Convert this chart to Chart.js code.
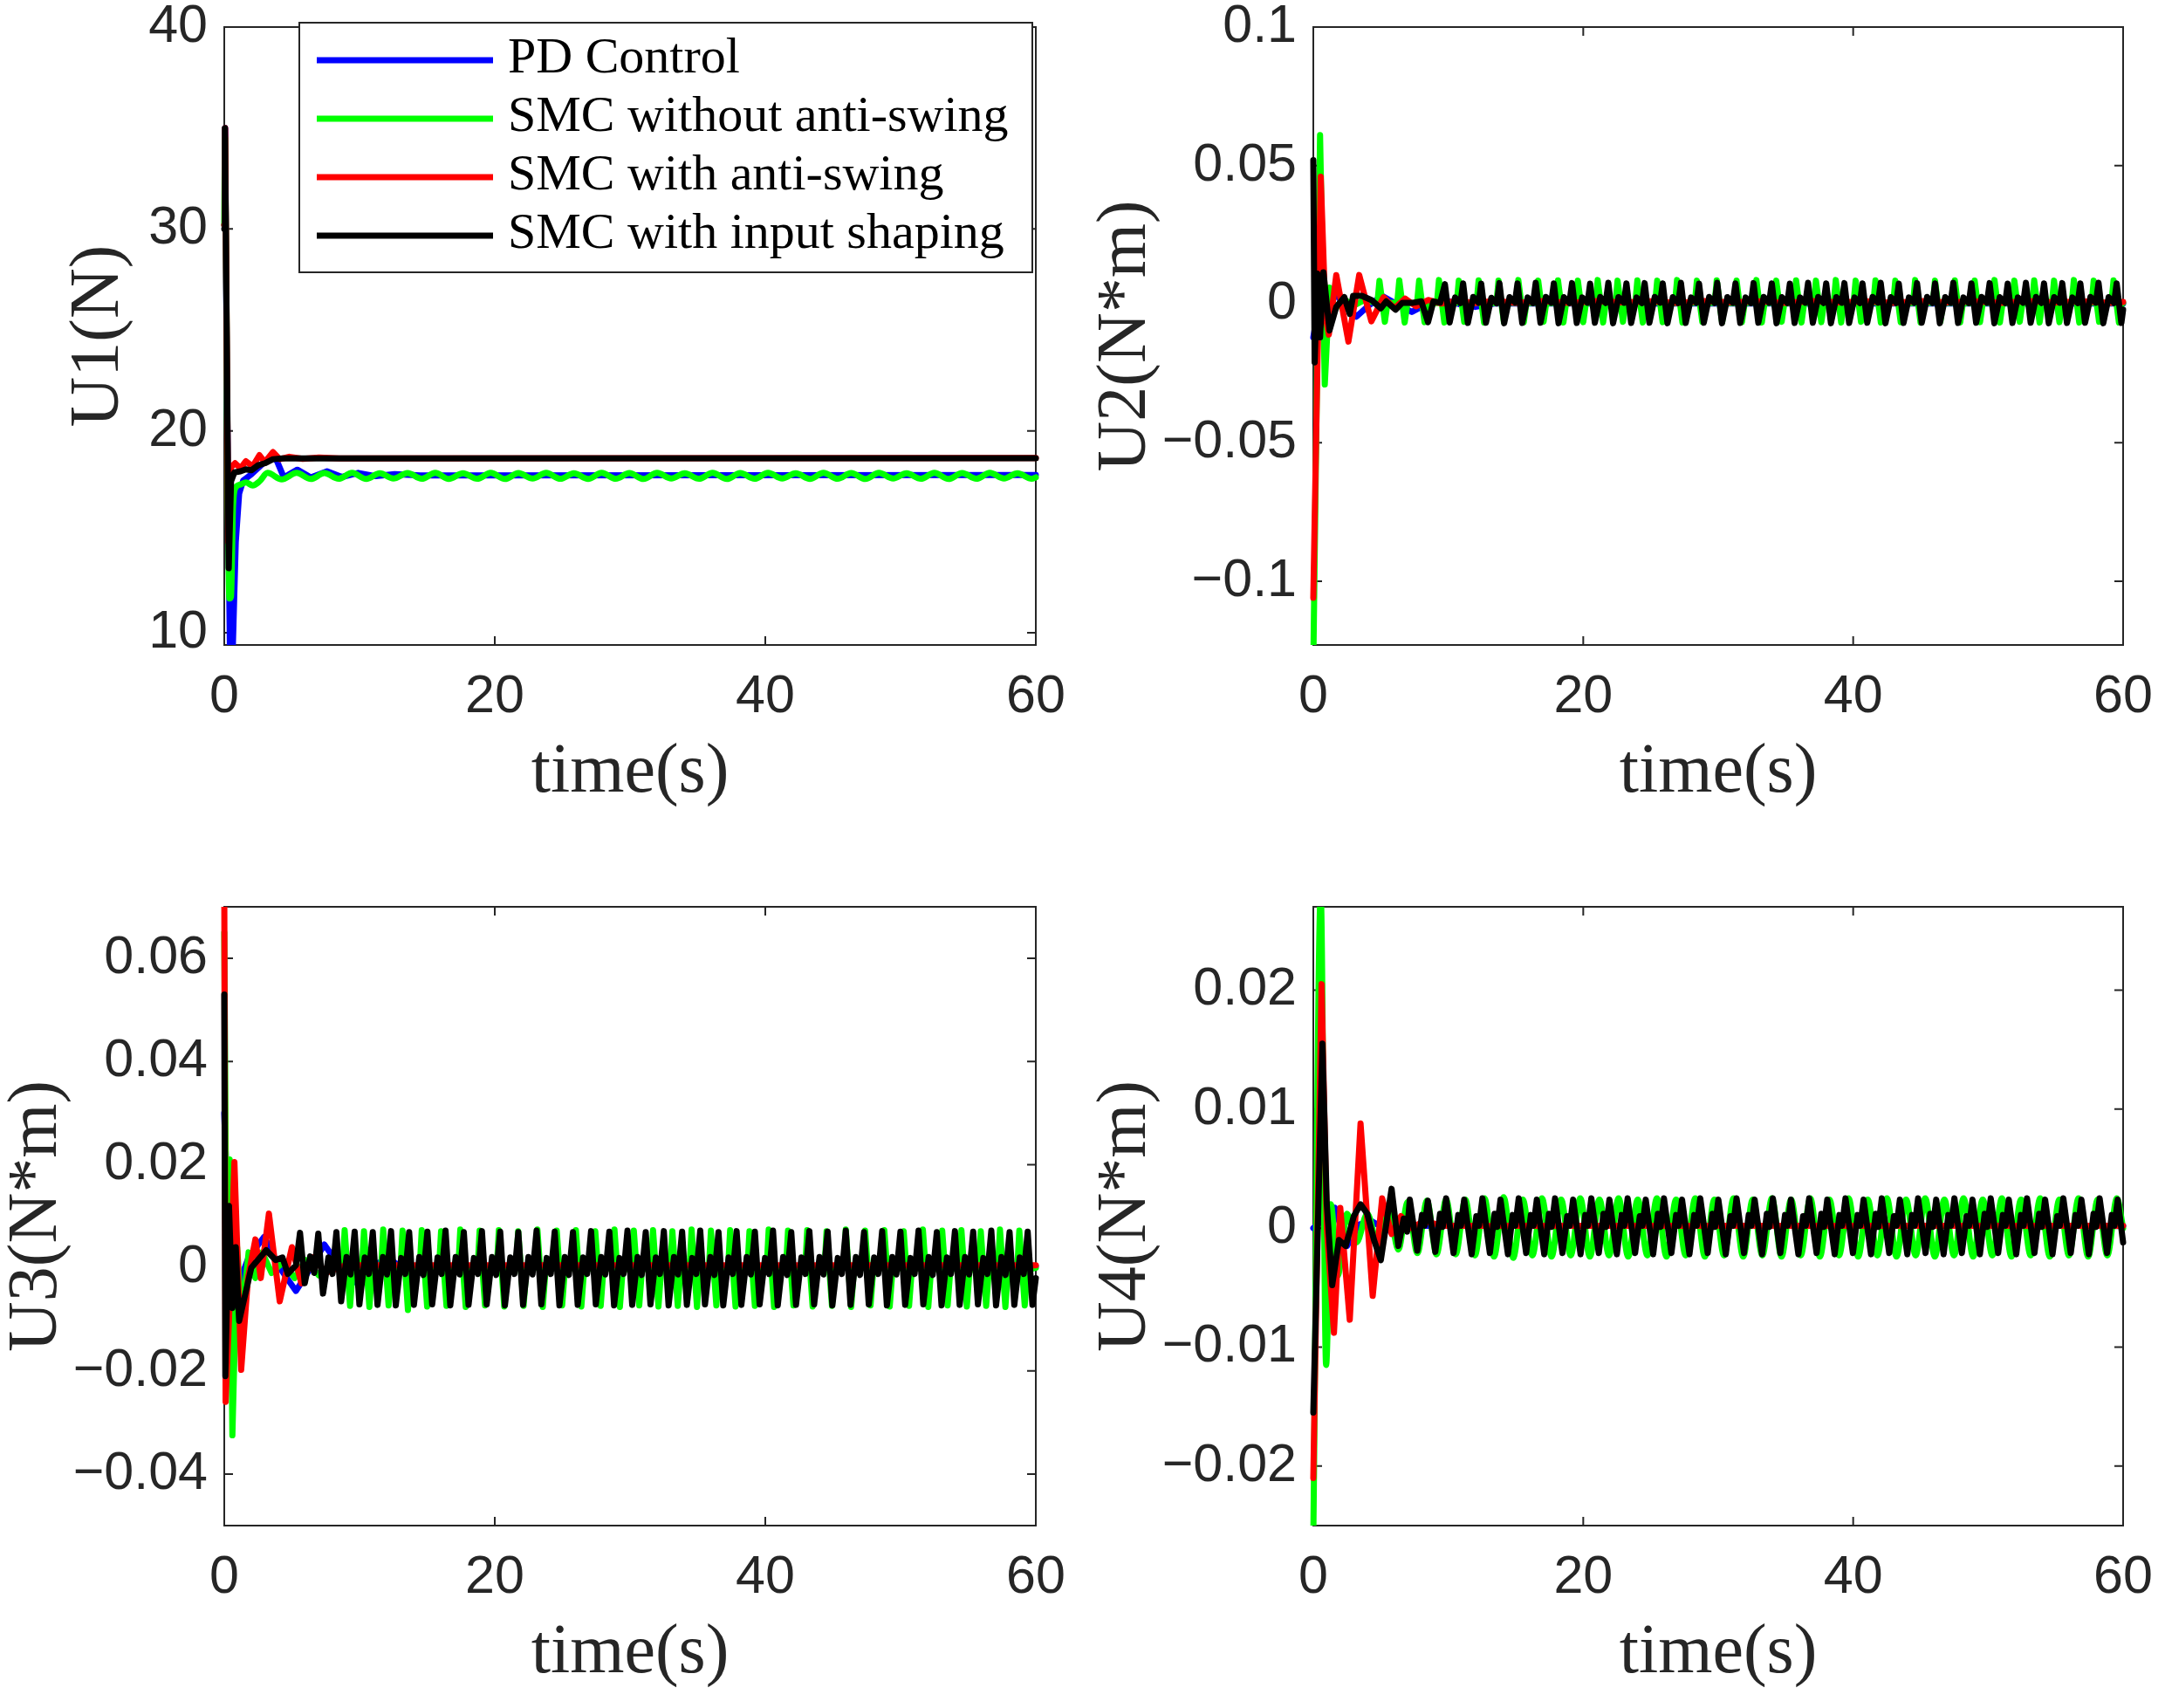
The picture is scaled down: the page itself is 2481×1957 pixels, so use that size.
<!DOCTYPE html>
<html lang="en">
<head>
<meta charset="UTF-8">
<title>Control inputs U1-U4</title>
<script src="https://cdn.jsdelivr.net/npm/chart.js"></script>
<style>
  html, body { margin: 0; padding: 0; background: #fff; overflow: hidden; }
  #fig { position: relative; width: 2481px; height: 1957px; background: #fff; overflow: hidden; }
  #fig canvas { position: absolute; }
</style>
</head>
<body>
<div id="fig">
  <canvas id="u1"></canvas>
  <canvas id="u2"></canvas>
  <canvas id="u3"></canvas>
  <canvas id="u4"></canvas>
</div>
<script>
// ---- series names / colours (legend order) ----
const SERIES_LABELS = ['PD Control', 'SMC without anti-swing', 'SMC with anti-swing', 'SMC with input shaping'];
const SERIES_COLORS = ['#0000ff', '#00ff00', '#ff0000', '#000000'];

// ---- shared x axis ----
const X_TICKS = [0, 20, 40, 60];
const X_LABELS = ['0', '20', '40', '60'];

// ---- U1 (N) ----
const U1_Y_TICKS = [10, 20, 30, 40];
const U1_Y_LABELS = ['10', '20', '30', '40'];
const U1_BLUE = [[0,30.2],[0.06,35],[0.2,22],[0.42,9.0],[0.62,9.0],[0.85,14.5],[1.1,16.9],[1.4,17.55],[2.0,17.85],[2.8,18.35],[3.5,18.8],[3.9,18.5],[4.4,17.7],[5.4,18.08],[6.4,17.7],[7.6,18.0],[8.7,17.72],[9.9,17.92],[11.2,17.76],[12.6,17.86],[14.5,17.8],[60,17.82]];
const U1_GREEN = [[0,30.2],[0.06,34.5],[0.22,20],[0.38,11.7],[0.5,11.8],[0.65,16.3],[0.85,17.2],[1.2,17.35],[1.6,17.45],[2.1,17.3],[2.6,17.5],[3.2,17.92],[4.25,17.6],
  [5.35,17.92],[6.4,17.62],[7.4,17.91],[8.45,17.63],[9.45,17.92],[10.5,17.62],[11.5,17.9],[12.5,17.64],[13.55,17.91],[14.6,17.63],[15.6,17.92],[16.6,17.62],
  [17.65,17.9],[18.7,17.63],[19.7,17.92],[20.75,17.62],[21.75,17.91],[22.8,17.64],[23.8,17.92],[24.85,17.63],[25.85,17.9],[26.9,17.62],[27.9,17.92],[28.95,17.63],
  [29.95,17.91],[31.0,17.62],[32.0,17.92],[33.05,17.64],[34.05,17.9],[35.1,17.63],[36.1,17.92],[37.15,17.62],[38.15,17.91],[39.2,17.63],[40.2,17.92],[41.25,17.64],
  [42.25,17.9],[43.3,17.62],[44.3,17.92],[45.35,17.63],[46.35,17.91],[47.4,17.62],[48.4,17.92],[49.45,17.64],[50.45,17.9],[51.5,17.63],[52.5,17.92],[53.55,17.62],
  [54.55,17.91],[55.6,17.63],[56.6,17.92],[57.65,17.64],[58.65,17.9],[59.7,17.63],[60,17.7]];
const U1_RED = [[0,30.2],[0.06,35],[0.3,14.5],[0.5,18.2],[0.8,18.4],[1.2,18.15],[1.6,18.5],[2.1,18.25],[2.6,18.8],[3.0,18.45],[3.6,18.95],[4.1,18.6],[4.8,18.72],[5.8,18.62],[7.0,18.68],[8.5,18.64],[60,18.66]];
const U1_BLACK = [[0,30.0],[0.05,35],[0.33,13.2],[0.5,17.5],[0.75,17.95],[1.2,18.0],[1.6,18.1],[2.0,18.05],[2.5,18.3],[3.0,18.4],[3.6,18.6],[4.3,18.64],[60,18.65]];

// ---- U2 (N*m) ----
const U2_Y_TICKS = [-0.1, -0.05, 0, 0.05, 0.1];
const U2_Y_LABELS = ['\u22120.1', '\u22120.05', '0', '0.05', '0.1'];
const U2_BLUE = [[0,-0.012],[0.5,0.002],[1.3,0.0055],[2.2,0.0005],[3.2,-0.0045],[4.1,-0.0005],[5.1,0.003],[6.2,0.0],[7.3,-0.0028],[8.4,0.0],[9.6,0.0017],[10.8,0.0],[12.0,-0.001],[13.5,0.0003],[15,0.0002],[60,0.0002]];
const U2_GREEN = [[0,-0.13],[0.5,0.061],[0.85,-0.029],[1.2,0.006],[1.6,-0.002],[2.2,0.002],[3.0,-0.0005],[3.8,0.0015],[4.6,0.0005],
  [4.75,0.0005],[4.9,0.0084],[5.3,-0.0064],[5.5,0.0005],
  [6.22,0.0005],[6.37,0.0086],[6.77,-0.0066],[6.97,0.0004],
  [7.69,0.0005],[7.84,0.0085],[8.24,-0.0065],[8.44,0.0005],
  [9.16,0.0004],[9.31,0.0087],[9.71,-0.0066],[9.91,0.0005],
  [10.63,0.0005],[10.78,0.0085],[11.18,-0.0064],[11.38,0.0004],
  [12.1,0.0005],[12.25,0.0086],[12.65,-0.0066],[12.85,0.0005],
  [13.57,0.0004],[13.72,0.0085],[14.12,-0.0065],[14.32,0.0005],
  [15.04,0.0005],[15.19,0.0087],[15.59,-0.0066],[15.79,0.0004],
  [16.51,0.0005],[16.66,0.0085],[17.06,-0.0064],[17.26,0.0005],
  [17.98,0.0004],[18.13,0.0086],[18.53,-0.0066],[18.73,0.0005],
  [19.45,0.0005],[19.6,0.0085],[20.0,-0.0065],[20.2,0.0004],
  [20.92,0.0005],[21.07,0.0087],[21.47,-0.0066],[21.67,0.0005],
  [22.39,0.0004],[22.54,0.0085],[22.94,-0.0064],[23.14,0.0005],
  [23.86,0.0005],[24.01,0.0086],[24.41,-0.0066],[24.61,0.0004],
  [25.33,0.0005],[25.48,0.0085],[25.88,-0.0065],[26.08,0.0005],
  [26.8,0.0004],[26.95,0.0087],[27.35,-0.0066],[27.55,0.0005],
  [28.27,0.0005],[28.42,0.0085],[28.82,-0.0064],[29.02,0.0004],
  [29.74,0.0005],[29.89,0.0086],[30.29,-0.0066],[30.49,0.0005],
  [31.21,0.0004],[31.36,0.0085],[31.76,-0.0065],[31.96,0.0005],
  [32.68,0.0005],[32.83,0.0087],[33.23,-0.0066],[33.43,0.0004],
  [34.15,0.0005],[34.3,0.0085],[34.7,-0.0064],[34.9,0.0005],
  [35.62,0.0004],[35.77,0.0086],[36.17,-0.0066],[36.37,0.0005],
  [37.09,0.0005],[37.24,0.0085],[37.64,-0.0065],[37.84,0.0004],
  [38.56,0.0005],[38.71,0.0087],[39.11,-0.0066],[39.31,0.0005],
  [40.03,0.0004],[40.18,0.0085],[40.58,-0.0064],[40.78,0.0005],
  [41.5,0.0005],[41.65,0.0086],[42.05,-0.0066],[42.25,0.0004],
  [42.97,0.0005],[43.12,0.0085],[43.52,-0.0065],[43.72,0.0005],
  [44.44,0.0004],[44.59,0.0087],[44.99,-0.0066],[45.19,0.0005],
  [45.91,0.0005],[46.06,0.0085],[46.46,-0.0064],[46.66,0.0004],
  [47.38,0.0005],[47.53,0.0086],[47.93,-0.0066],[48.13,0.0005],
  [48.85,0.0004],[49.0,0.0085],[49.4,-0.0065],[49.6,0.0005],
  [50.32,0.0005],[50.47,0.0087],[50.87,-0.0066],[51.07,0.0004],
  [51.79,0.0005],[51.94,0.0085],[52.34,-0.0064],[52.54,0.0005],
  [53.26,0.0004],[53.41,0.0086],[53.81,-0.0066],[54.01,0.0005],
  [54.73,0.0005],[54.88,0.0085],[55.28,-0.0065],[55.48,0.0004],
  [56.2,0.0005],[56.35,0.0087],[56.75,-0.0066],[56.95,0.0005],
  [57.67,0.0004],[57.82,0.0085],[58.22,-0.0064],[58.42,0.0005],
  [59.14,0.0005],[59.29,0.0086],[59.69,-0.0066],[59.89,0.0005],[60,0.0005]];
const U2_RED = [[0,-0.106],[0.55,0.046],[0.9,-0.004],[1.15,-0.011],[1.7,0.0105],[2.6,-0.0135],[3.4,0.0105],[4.3,-0.0062],[5.2,0.0025],[6.0,-0.0015],[6.8,0.002],[7.6,-0.0008],[8.5,0.0015],[9.5,0.0002],
  [10.6,0.0012],[12,0.0004],[13.4,0.0012],[15,0.0005],[17,0.0011],[19,0.0005],[21,0.0011],[23,0.0006],[25,0.001],[27,0.0005],[29,0.0011],[31,0.0006],[33,0.001],[35,0.0005],
  [37,0.0011],[39,0.0006],[41,0.001],[43,0.0005],[45,0.0011],[47,0.0006],[49,0.001],[51,0.0005],[53,0.0011],[55,0.0006],[57,0.001],[59,0.0005],[60,0.0008]];
const U2_BLACK = [[0,0.052],[0.1,-0.021],[0.3,0.011],[0.5,-0.012],[0.75,0.0115],[1.2,-0.0095],[1.7,-0.001],[2.3,0.0025],[2.7,-0.0035],[2.95,0.003],[3.6,0.003],[4.3,0.0015],[5.0,-0.0015],[5.4,0.001],[6.1,-0.002],[6.6,0.0005],[7.4,0.0005],[8.0,0.001],[8.5,-0.0065],[8.9,0.001],[9.4,0.0005],
  [9.75,0.0072],[10.1,-0.0066],[10.5,0.0024],[10.9,0.0004],
  [11.1,0.0075],[11.45,-0.0068],[11.85,0.0026],[12.25,0.0005],
  [12.44,0.0074],[12.79,-0.0067],[13.19,0.0023],[13.59,0.0003],
  [13.79,0.0076],[14.14,-0.0069],[14.54,0.0025],[14.94,0.0006],
  [15.13,0.0075],[15.48,-0.0068],[15.88,0.0024],[16.28,0.0004],
  [16.48,0.0077],[16.83,-0.0067],[17.23,0.0026],[17.63,0.0005],
  [17.82,0.0075],[18.17,-0.0069],[18.57,0.0025],[18.97,0.0004],
  [19.17,0.0076],[19.52,-0.0068],[19.92,0.0024],[20.32,0.0005],
  [20.51,0.0074],[20.86,-0.0067],[21.26,0.0026],[21.66,0.0004],
  [21.86,0.0077],[22.21,-0.0069],[22.61,0.0025],[23.01,0.0005],
  [23.2,0.0075],[23.55,-0.0068],[23.95,0.0024],[24.35,0.0004],
  [24.55,0.0076],[24.9,-0.0067],[25.3,0.0026],[25.7,0.0005],
  [25.89,0.0075],[26.24,-0.0069],[26.64,0.0025],[27.04,0.0004],
  [27.24,0.0077],[27.59,-0.0068],[27.99,0.0024],[28.39,0.0005],
  [28.58,0.0074],[28.93,-0.0067],[29.33,0.0026],[29.73,0.0004],
  [29.93,0.0077],[30.28,-0.0069],[30.68,0.0025],[31.08,0.0005],
  [31.28,0.0075],[31.63,-0.0068],[32.03,0.0024],[32.43,0.0004],
  [32.62,0.0076],[32.97,-0.0067],[33.37,0.0026],[33.77,0.0005],
  [33.97,0.0075],[34.32,-0.0069],[34.72,0.0025],[35.12,0.0004],
  [35.31,0.0074],[35.66,-0.0068],[36.06,0.0024],[36.46,0.0005],
  [36.66,0.0077],[37.01,-0.0067],[37.41,0.0026],[37.81,0.0004],
  [38.0,0.0075],[38.35,-0.0069],[38.75,0.0025],[39.15,0.0005],
  [39.35,0.0076],[39.7,-0.0068],[40.1,0.0024],[40.5,0.0004],
  [40.69,0.0075],[41.04,-0.0067],[41.44,0.0026],[41.84,0.0005],
  [42.04,0.0077],[42.39,-0.0069],[42.79,0.0025],[43.19,0.0004],
  [43.38,0.0074],[43.73,-0.0068],[44.13,0.0024],[44.53,0.0005],
  [44.73,0.0076],[45.08,-0.0067],[45.48,0.0026],[45.88,0.0004],
  [46.07,0.0075],[46.42,-0.0069],[46.82,0.0025],[47.22,0.0005],
  [47.42,0.0077],[47.77,-0.0068],[48.17,0.0024],[48.57,0.0004],
  [48.76,0.0075],[49.11,-0.0067],[49.51,0.0026],[49.91,0.0005],
  [50.11,0.0076],[50.46,-0.0069],[50.86,0.0025],[51.26,0.0004],
  [51.45,0.0074],[51.8,-0.0068],[52.2,0.0024],[52.6,0.0005],
  [52.8,0.0077],[53.15,-0.0067],[53.55,0.0026],[53.95,0.0004],
  [54.14,0.0075],[54.49,-0.0069],[54.89,0.0025],[55.29,0.0005],
  [55.49,0.0076],[55.84,-0.0068],[56.24,0.0024],[56.64,0.0004],
  [56.83,0.0075],[57.18,-0.0067],[57.58,0.0026],[57.98,0.0005],
  [58.18,0.0077],[58.53,-0.0069],[58.93,0.0025],[59.33,0.0004],
  [59.52,0.0075],[59.87,-0.0068],[60,-0.002]];

// ---- U3 (N*m) ----
const U3_Y_TICKS = [-0.04, -0.02, 0, 0.02, 0.04, 0.06];
const U3_Y_LABELS = ['\u22120.04', '\u22120.02', '0', '0.02', '0.04', '0.06'];
const U3_BLUE = [[0,0.03],[0.3,0.008],[0.8,-0.005],[1.8,0.002],[2.95,0.006],[4.1,0.0],[5.3,-0.0045],[6.4,0.0],[7.4,0.0045],[8.6,0.0],[9.8,-0.003],[10.9,0.0],[12.0,0.002],[13.2,0.0],[14.4,-0.001],[16,0.0003],[60,0.0003]];
const U3_GREEN = [[0,0.065],[0.2,-0.015],[0.4,0.021],[0.6,-0.0325],[0.95,0.004],[1.3,-0.01],[1.8,0.003],[2.3,-0.002],[2.8,0.003],[3.5,-0.001],[4.3,0.001],[5.2,-0.002],[6.0,0.0015],[7.0,-0.0015],[8.0,0.0005],
  [8.75,0.0],[8.9,0.0073],[9.3,-0.0074],[9.5,-0.0005],
  [10.18,0.0],[10.33,0.0071],[10.73,-0.0076],[10.93,-0.0004],
  [11.6,0.0],[11.75,0.0074],[12.15,-0.0073],[12.35,-0.0005],
  [13.03,0.0],[13.18,0.0072],[13.58,-0.0082],[13.78,-0.0004],
  [14.45,0.0],[14.6,0.0073],[15.0,-0.0075],[15.2,-0.0005],
  [15.88,0.0],[16.03,0.0071],[16.43,-0.0074],[16.63,-0.0004],
  [17.3,0.0],[17.45,0.0074],[17.85,-0.0076],[18.05,-0.0005],
  [18.73,0.0],[18.88,0.0072],[19.28,-0.0073],[19.48,-0.0004],
  [20.15,0.0],[20.3,0.0073],[20.7,-0.0075],[20.9,-0.0005],
  [21.58,0.0],[21.73,0.0071],[22.13,-0.0074],[22.33,-0.0004],
  [23.0,0.0],[23.15,0.0074],[23.55,-0.0076],[23.75,-0.0005],
  [24.43,0.0],[24.58,0.0072],[24.98,-0.0073],[25.18,-0.0004],
  [25.85,0.0],[26.0,0.0073],[26.4,-0.0075],[26.6,-0.0005],
  [27.28,0.0],[27.43,0.0071],[27.83,-0.0074],[28.03,-0.0004],
  [28.7,0.0],[28.85,0.0074],[29.25,-0.0076],[29.45,-0.0005],
  [30.13,0.0],[30.28,0.0072],[30.68,-0.0073],[30.88,-0.0004],
  [31.55,0.0],[31.7,0.0073],[32.1,-0.0075],[32.3,-0.0005],
  [32.98,0.0],[33.13,0.0071],[33.53,-0.0074],[33.73,-0.0004],
  [34.4,0.0],[34.55,0.0074],[34.95,-0.0076],[35.15,-0.0005],
  [35.83,0.0],[35.98,0.0072],[36.38,-0.0073],[36.58,-0.0004],
  [37.25,0.0],[37.4,0.0073],[37.8,-0.0075],[38.0,-0.0005],
  [38.68,0.0],[38.83,0.0071],[39.23,-0.0074],[39.43,-0.0004],
  [40.1,0.0],[40.25,0.0074],[40.65,-0.0076],[40.85,-0.0005],
  [41.53,0.0],[41.68,0.0072],[42.08,-0.0073],[42.28,-0.0004],
  [42.95,0.0],[43.1,0.0073],[43.5,-0.0075],[43.7,-0.0005],
  [44.38,0.0],[44.53,0.0071],[44.93,-0.0074],[45.13,-0.0004],
  [45.8,0.0],[45.95,0.0074],[46.35,-0.0076],[46.55,-0.0005],
  [47.23,0.0],[47.38,0.0072],[47.78,-0.0073],[47.98,-0.0004],
  [48.65,0.0],[48.8,0.0073],[49.2,-0.0075],[49.4,-0.0005],
  [50.08,0.0],[50.23,0.0071],[50.63,-0.0074],[50.83,-0.0004],
  [51.5,0.0],[51.65,0.0074],[52.05,-0.0076],[52.25,-0.0005],
  [52.93,0.0],[53.08,0.0072],[53.48,-0.0073],[53.68,-0.0004],
  [54.35,0.0],[54.5,0.0073],[54.9,-0.0075],[55.1,-0.0005],
  [55.78,0.0],[55.93,0.0071],[56.33,-0.0074],[56.53,-0.0004],
  [57.2,0.0],[57.35,0.0074],[57.75,-0.0076],[57.95,-0.0005],
  [58.63,0.0],[58.78,0.0072],[59.18,-0.0073],[59.38,-0.0004],[60,0.0]];
const U3_RED = [[0,0.075],[0.1,-0.026],[0.35,-0.01],[0.75,0.0205],[1.25,-0.0198],[1.75,-0.002],[2.3,0.0055],[2.7,-0.002],[3.3,0.0105],[4.1,-0.0065],[5.0,0.004],[5.7,-0.003],[6.6,0.002],[7.5,-0.001],[9,0.0005],[60,0.0005]];
const U3_BLACK = [[0,0.053],[0.08,-0.021],[0.35,0.012],[0.6,-0.0078],[0.85,0.004],[1.1,-0.0103],[2.0,0.0],[3.1,0.0034],[3.8,0.0015],[4.3,0.002],[4.7,-0.0012],[5.3,0.0005],
  [5.6,0.0068],[5.95,-0.003],[6.35,0.0022],[6.65,-0.001],
  [6.95,0.0066],[7.3,-0.005],[7.7,0.002],[8.0,-0.0012],
  [8.29,0.0069],[8.64,-0.0065],[9.04,0.0021],[9.34,-0.0013],
  [9.64,0.007],[9.99,-0.0071],[10.39,0.002],[10.69,-0.0012],
  [10.98,0.0069],[11.33,-0.0072],[11.73,0.0021],[12.03,-0.0013],
  [12.33,0.0071],[12.68,-0.0073],[13.08,0.0019],[13.38,-0.0012],
  [13.67,0.0069],[14.02,-0.0072],[14.42,0.0021],[14.72,-0.0014],
  [15.02,0.007],[15.37,-0.0071],[15.77,0.002],[16.07,-0.0012],
  [16.36,0.0072],[16.71,-0.0073],[17.11,0.0021],[17.41,-0.0013],
  [17.71,0.0069],[18.06,-0.0072],[18.46,0.0019],[18.76,-0.0012],
  [19.05,0.0071],[19.4,-0.0071],[19.8,0.0021],[20.1,-0.0014],
  [20.4,0.007],[20.75,-0.0073],[21.15,0.002],[21.45,-0.0012],
  [21.74,0.0069],[22.09,-0.0072],[22.49,0.0021],[22.79,-0.0013],
  [23.09,0.0072],[23.44,-0.0071],[23.84,0.0019],[24.14,-0.0012],
  [24.43,0.007],[24.78,-0.0073],[25.18,0.0021],[25.48,-0.0014],
  [25.78,0.0069],[26.13,-0.0072],[26.53,0.002],[26.83,-0.0012],
  [27.12,0.0071],[27.47,-0.0071],[27.87,0.0021],[28.17,-0.0013],
  [28.47,0.007],[28.82,-0.0073],[29.22,0.0019],[29.52,-0.0012],
  [29.81,0.0072],[30.16,-0.0072],[30.56,0.0021],[30.86,-0.0014],
  [31.16,0.0069],[31.51,-0.0071],[31.91,0.002],[32.21,-0.0012],
  [32.5,0.0071],[32.85,-0.0073],[33.25,0.0021],[33.55,-0.0013],
  [33.85,0.007],[34.2,-0.0072],[34.6,0.0019],[34.9,-0.0012],
  [35.19,0.0072],[35.54,-0.0071],[35.94,0.0021],[36.24,-0.0014],
  [36.54,0.0069],[36.89,-0.0073],[37.29,0.002],[37.59,-0.0012],
  [37.88,0.0071],[38.23,-0.0072],[38.63,0.0021],[38.93,-0.0013],
  [39.23,0.007],[39.58,-0.0071],[39.98,0.0019],[40.28,-0.0012],
  [40.57,0.0072],[40.92,-0.0073],[41.32,0.0021],[41.62,-0.0014],
  [41.92,0.0069],[42.27,-0.0072],[42.67,0.002],[42.97,-0.0012],
  [43.26,0.0071],[43.61,-0.0071],[44.01,0.0021],[44.31,-0.0013],
  [44.61,0.007],[44.96,-0.0073],[45.36,0.0019],[45.66,-0.0012],
  [45.95,0.0072],[46.3,-0.0072],[46.7,0.0021],[47.0,-0.0014],
  [47.3,0.0069],[47.65,-0.0071],[48.05,0.002],[48.35,-0.0012],
  [48.64,0.0071],[48.99,-0.0073],[49.39,0.0021],[49.69,-0.0013],
  [49.99,0.007],[50.34,-0.0072],[50.74,0.0019],[51.04,-0.0012],
  [51.33,0.0072],[51.68,-0.0071],[52.08,0.0021],[52.38,-0.0014],
  [52.68,0.0069],[53.03,-0.0073],[53.43,0.002],[53.73,-0.0012],
  [54.02,0.0071],[54.37,-0.0072],[54.77,0.0021],[55.07,-0.0013],
  [55.37,0.007],[55.72,-0.0071],[56.12,0.0019],[56.42,-0.0012],
  [56.71,0.0072],[57.06,-0.0073],[57.46,0.0021],[57.76,-0.0014],
  [58.06,0.0069],[58.41,-0.0072],[58.81,0.002],[59.11,-0.0012],
  [59.4,0.007],[59.75,-0.0072],[60,-0.002]];

// ---- U4 (N*m) ----
const U4_Y_TICKS = [-0.02, -0.01, 0, 0.01, 0.02];
const U4_Y_LABELS = ['\u22120.02', '\u22120.01', '0', '0.01', '0.02'];
const U4_BLUE = [[0,0.0],[0.5,0.0005],[1.6,0.0017],[2.5,-0.0015],[3.4,0.0003],[4.3,0.0006],[5.5,-0.0002],[7,0.0002],[60,0.0002]];
const U4_GREEN = [[0,-0.026],[0.55,0.028],[0.95,-0.0115],[1.3,0.002],[1.8,-0.004],[2.5,0.0012],[3.2,-0.0012],[4.0,0.0012],[4.8,-0.0015],[5.6,0.0015],[6.3,-0.0018],
  [7.0,0.0022],[7.71,-0.0021],[8.42,0.0023],[9.13,-0.0022],[9.84,0.0024],[10.55,-0.0022],[11.26,0.0024],[11.97,-0.0023],[12.68,0.0025],[13.39,-0.0024],
  [14.1,0.0026],[14.81,-0.0025],[15.52,0.0024],[16.23,-0.0023],[16.94,0.0025],[17.65,-0.0024],[18.36,0.0024],[19.07,-0.0023],[19.78,0.0025],[20.49,-0.0024],
  [21.2,0.0024],[21.91,-0.0023],[22.62,0.0025],[23.33,-0.0024],[24.04,0.0024],[24.75,-0.0023],[25.46,0.0025],[26.17,-0.0024],[26.88,0.0024],[27.59,-0.0023],
  [28.3,0.0025],[29.01,-0.0024],[29.72,0.0024],[30.43,-0.0023],[31.14,0.0025],[31.85,-0.0024],[32.56,0.0024],[33.27,-0.0023],[33.98,0.0025],[34.69,-0.0024],
  [35.4,0.0024],[36.11,-0.0023],[36.82,0.0025],[37.53,-0.0024],[38.24,0.0024],[38.95,-0.0023],[39.66,0.0025],[40.37,-0.0024],[41.08,0.0024],[41.79,-0.0023],
  [42.5,0.0025],[43.21,-0.0024],[43.92,0.0024],[44.63,-0.0023],[45.34,0.0025],[46.05,-0.0024],[46.76,0.0024],[47.47,-0.0023],[48.18,0.0025],[48.89,-0.0024],
  [49.6,0.0024],[50.31,-0.0023],[51.02,0.0025],[51.73,-0.0024],[52.44,0.0024],[53.15,-0.0023],[53.86,0.0025],[54.57,-0.0024],[55.28,0.0024],[55.99,-0.0023],
  [56.7,0.0025],[57.41,-0.0024],[58.12,0.0024],[58.83,-0.0023],[59.54,0.0025],[60,0.0]];
const U4_RED = [[0,-0.021],[0.61,0.0205],[1.0,0.0],[1.53,-0.0088],[2.0,0.0017],[2.7,-0.0077],[3.5,0.0088],[4.4,-0.0057],[5.1,0.0025],[5.8,-0.0005],[6.5,0.001],[7.3,0.0],[8.2,0.0006],[9.5,0.0002],[60,0.0002]];
const U4_BLACK = [[0,-0.0155],[0.67,0.0155],[1.0,0.002],[1.4,-0.0048],[1.9,-0.001],[2.4,-0.0015],[3.0,0.001],[3.5,0.002],[4.0,0.0012],[4.5,-0.001],[5.0,-0.0027],[5.8,0.0033],[6.3,-0.0015],[6.7,0.0008],[6.95,-0.0003],
  [7.15,0.0024],[7.7,-0.0019],[8.05,0.0011],[8.25,0.0002],
  [8.49,0.0023],[9.04,-0.002],[9.39,0.0012],[9.59,0.0001],
  [9.84,0.0025],[10.39,-0.0021],[10.74,0.0011],[10.94,0.0002],
  [11.18,0.0024],[11.73,-0.0022],[12.08,0.001],[12.28,0.0002],
  [12.53,0.0025],[13.08,-0.0021],[13.43,0.0012],[13.63,0.0001],
  [13.87,0.0024],[14.42,-0.0022],[14.77,0.0011],[14.97,0.0002],
  [15.22,0.0025],[15.77,-0.0021],[16.12,0.0011],[16.32,0.0002],
  [16.56,0.0024],[17.11,-0.0022],[17.46,0.0012],[17.66,0.0001],
  [17.91,0.0025],[18.46,-0.0021],[18.81,0.001],[19.01,0.0002],
  [19.25,0.0024],[19.8,-0.0022],[20.15,0.0011],[20.35,0.0002],
  [20.6,0.0025],[21.15,-0.0021],[21.5,0.0012],[21.7,0.0001],
  [21.94,0.0024],[22.49,-0.0022],[22.84,0.0011],[23.04,0.0002],
  [23.29,0.0025],[23.84,-0.0021],[24.19,0.001],[24.39,0.0002],
  [24.63,0.0024],[25.18,-0.0022],[25.53,0.0012],[25.73,0.0001],
  [25.98,0.0025],[26.53,-0.0021],[26.88,0.0011],[27.08,0.0002],
  [27.32,0.0024],[27.87,-0.0022],[28.22,0.0011],[28.42,0.0002],
  [28.67,0.0025],[29.22,-0.0021],[29.57,0.0012],[29.77,0.0001],
  [30.01,0.0024],[30.56,-0.0022],[30.91,0.001],[31.11,0.0002],
  [31.36,0.0025],[31.91,-0.0021],[32.26,0.0011],[32.46,0.0002],
  [32.7,0.0024],[33.25,-0.0022],[33.6,0.0012],[33.8,0.0001],
  [34.05,0.0025],[34.6,-0.0021],[34.95,0.0011],[35.15,0.0002],
  [35.39,0.0024],[35.94,-0.0022],[36.29,0.001],[36.49,0.0002],
  [36.74,0.0025],[37.29,-0.0021],[37.64,0.0012],[37.84,0.0001],
  [38.08,0.0024],[38.63,-0.0022],[38.98,0.0011],[39.18,0.0002],
  [39.43,0.0025],[39.98,-0.0021],[40.33,0.0011],[40.53,0.0002],
  [40.77,0.0024],[41.32,-0.0022],[41.67,0.0012],[41.87,0.0001],
  [42.12,0.0025],[42.67,-0.0021],[43.02,0.001],[43.22,0.0002],
  [43.46,0.0024],[44.01,-0.0022],[44.36,0.0011],[44.56,0.0002],
  [44.81,0.0025],[45.36,-0.0021],[45.71,0.0012],[45.91,0.0001],
  [46.15,0.0024],[46.7,-0.0022],[47.05,0.0011],[47.25,0.0002],
  [47.5,0.0025],[48.05,-0.0021],[48.4,0.001],[48.6,0.0002],
  [48.84,0.0024],[49.39,-0.0022],[49.74,0.0012],[49.94,0.0001],
  [50.19,0.0025],[50.74,-0.0021],[51.09,0.0011],[51.29,0.0002],
  [51.53,0.0024],[52.08,-0.0022],[52.43,0.0011],[52.63,0.0002],
  [52.88,0.0025],[53.43,-0.0021],[53.78,0.0012],[53.98,0.0001],
  [54.22,0.0024],[54.77,-0.0022],[55.12,0.001],[55.32,0.0002],
  [55.57,0.0025],[56.12,-0.0021],[56.47,0.0011],[56.67,0.0002],
  [56.91,0.0024],[57.46,-0.0022],[57.81,0.0012],[58.01,0.0001],
  [58.26,0.0025],[58.81,-0.0021],[59.16,0.0011],[59.36,0.0002],
  [59.6,0.0024],[60,-0.0012]];

// ---- styling ----
const AXIS_COLOR = '#262626';
const TICK_FONT = { family: "'Liberation Sans', Arial, sans-serif", size: 61, lineHeight: 1.2 };
const TITLE_FONT = { family: "'Liberation Serif', 'Times New Roman', serif", size: 80, lineHeight: 1 };
const LEGEND_FONT = "58px 'Liberation Serif', 'Times New Roman', serif";
const LINE_W = 7;

// box: inward ticks on all four sides (MATLAB look), drawn under the data
const matlabAxes = {
  id: 'matlabAxes',
  beforeDatasetsDraw(chart) {
    const { ctx, chartArea: a, scales } = chart;
    ctx.save();
    ctx.strokeStyle = AXIS_COLOR;
    ctx.lineWidth = 2;
    ctx.beginPath();
    scales.x.ticks.forEach(t => {
      const px = scales.x.getPixelForValue(t.value);
      ctx.moveTo(px, a.bottom); ctx.lineTo(px, a.bottom - 10);
      ctx.moveTo(px, a.top); ctx.lineTo(px, a.top + 10);
    });
    scales.y.ticks.forEach(t => {
      const py = scales.y.getPixelForValue(t.value);
      ctx.moveTo(a.left, py); ctx.lineTo(a.left + 10, py);
      ctx.moveTo(a.right, py); ctx.lineTo(a.right - 10, py);
    });
    ctx.stroke();
    ctx.strokeRect(a.left, a.top, a.right - a.left, a.bottom - a.top);
    ctx.restore();
  }
};

// legend box inside the first axes
const legendBox = {
  id: 'legendBox',
  afterDraw(chart, args, opts) {
    if (!opts.show) return;
    const { ctx, chartArea: a } = chart;
    const bx = a.left + 86, by = a.top - 5, bw = (a.right - 4) - bx, bh = 286;
    ctx.save();
    ctx.fillStyle = '#fff';
    ctx.fillRect(bx, by, bw, bh);
    ctx.strokeStyle = AXIS_COLOR;
    ctx.lineWidth = 2;
    ctx.strokeRect(bx, by, bw, bh);
    ctx.font = LEGEND_FONT;
    ctx.textBaseline = 'alphabetic';
    ctx.textAlign = 'left';
    SERIES_LABELS.forEach((name, i) => {
      const y = a.top + 38 + i * 67;
      ctx.strokeStyle = SERIES_COLORS[i];
      ctx.lineWidth = LINE_W;
      ctx.beginPath();
      ctx.moveTo(a.left + 106, y);
      ctx.lineTo(a.left + 308, y);
      ctx.stroke();
      ctx.fillStyle = '#000';
      ctx.fillText(name, a.left + 325, y + 14);
    });
    ctx.restore();
  }
};

function makePanel(p) {
  const canvas = document.getElementById(p.id);
  const cx = p.SL - 20, cy = p.T - 80;
  const w = p.R + 80 - cx, h = p.SB + 20 - cy;
  canvas.width = w; canvas.height = h;
  canvas.style.left = cx + 'px'; canvas.style.top = cy + 'px';
  canvas.style.width = w + 'px'; canvas.style.height = h + 'px';

  const datasets = p.series.map((pts, i) => ({
    label: SERIES_LABELS[i],
    data: pts.map(q => ({ x: q[0], y: q[1] })),
    borderColor: SERIES_COLORS[i],
    backgroundColor: SERIES_COLORS[i],
    borderWidth: LINE_W,
    pointRadius: 0,
    borderJoinStyle: 'round',
    borderCapStyle: 'round',
    cubicInterpolationMode: p.smooth.includes(i) ? 'monotone' : 'default',
    tension: 0,
    order: 3 - i,
    clip: { left: 5, right: 5, top: 0, bottom: 0 }
  }));

  return new Chart(canvas, {
    type: 'line',
    data: { datasets },
    plugins: [matlabAxes, legendBox],
    options: {
      responsive: false,
      animation: false,
      devicePixelRatio: 1,
      events: [],
      layout: { padding: { left: 20, top: 80, right: 80, bottom: 20 } },
      plugins: { legend: { display: false }, tooltip: { enabled: false }, legendBox: { show: !!p.legend } },
      scales: {
        x: {
          type: 'linear', min: 0, max: 60,
          afterBuildTicks: ax => { ax.ticks = X_TICKS.map(v => ({ value: v })); },
          afterFit: s => { s.height = p.SB - p.B; },
          ticks: { callback: (v, i) => X_LABELS[i], font: TICK_FONT, color: AXIS_COLOR, padding: 24, autoSkip: false, maxRotation: 0 },
          grid: { display: false, drawTicks: false },
          border: { display: false },
          title: { display: true, text: 'time(s)', font: TITLE_FONT, color: AXIS_COLOR, padding: 0 }
        },
        y: {
          type: 'linear', min: p.yMin, max: p.yMax,
          afterBuildTicks: ax => { ax.ticks = p.yTicks.map(v => ({ value: v })); },
          afterFit: s => { s.width = p.L - p.SL; },
          ticks: { callback: (v, i) => p.yLabels[i], font: TICK_FONT, color: AXIS_COLOR, padding: 19, autoSkip: false },
          grid: { display: false, drawTicks: false },
          border: { display: false },
          title: { display: true, text: p.yTitle, font: TITLE_FONT, color: AXIS_COLOR, padding: 0 }
        }
      }
    }
  });
}

makePanel({ id: 'u1', L: 257, T: 31, R: 1187, B: 739, SL: 74, SB: 926,
  yMin: 9.4, yMax: 40, yTicks: U1_Y_TICKS, yLabels: U1_Y_LABELS, yTitle: 'U1(N)',
  series: [U1_BLUE, U1_GREEN, U1_RED, U1_BLACK], smooth: [1], legend: true });
makePanel({ id: 'u2', L: 1505, T: 31, R: 2433, B: 739, SL: 1251, SB: 926,
  yMin: -0.123, yMax: 0.1, yTicks: U2_Y_TICKS, yLabels: U2_Y_LABELS, yTitle: 'U2(N*m)',
  series: [U2_BLUE, U2_GREEN, U2_RED, U2_BLACK], smooth: [] });
makePanel({ id: 'u3', L: 257, T: 1039, R: 1187, B: 1748, SL: 3, SB: 1935,
  yMin: -0.05, yMax: 0.07, yTicks: U3_Y_TICKS, yLabels: U3_Y_LABELS, yTitle: 'U3(N*m)',
  series: [U3_BLUE, U3_GREEN, U3_RED, U3_BLACK], smooth: [] });
makePanel({ id: 'u4', L: 1505, T: 1039, R: 2433, B: 1748, SL: 1251, SB: 1935,
  yMin: -0.025, yMax: 0.027, yTicks: U4_Y_TICKS, yLabels: U4_Y_LABELS, yTitle: 'U4(N*m)',
  series: [U4_BLUE, U4_GREEN, U4_RED, U4_BLACK], smooth: [1] });
</script>
</body>
</html>
